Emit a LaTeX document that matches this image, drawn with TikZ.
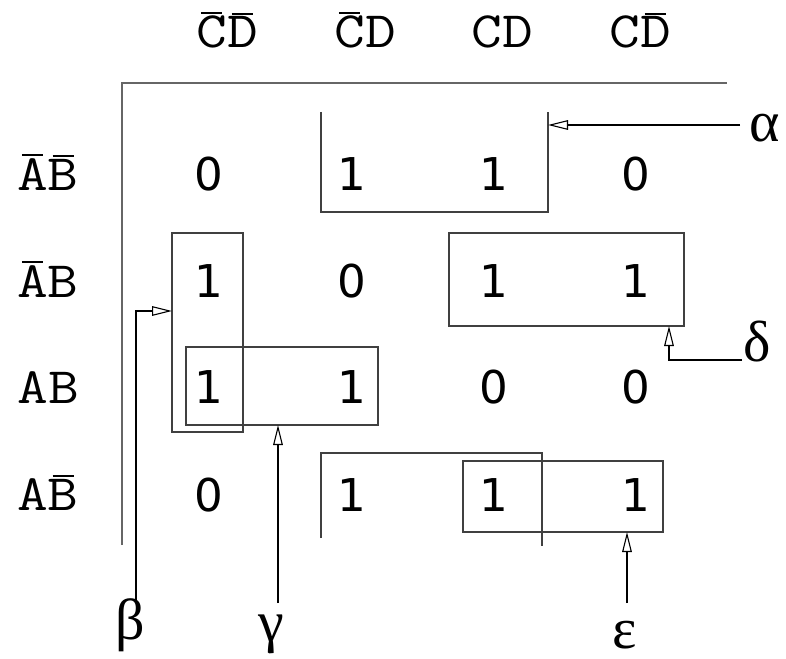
\documentclass[tikz,border=0pt]{standalone}
\usepackage{fontspec}
\usepackage{tikz}
\usetikzlibrary{arrows.meta}

\newfontfamily\digitfont{DejaVu Sans}
\newfontfamily\greekfont{Liberation Serif}

% letter with a bar over it
\newsavebox\ntbox
\newcommand{\nt}[1]{\sbox\ntbox{#1}\rlap{\hbox to \wd\ntbox{\hss\raisebox{\dimexpr\ht\ntbox+1pt\relax}{\rule{0.7\wd\ntbox}{1pt}}\hss}}\usebox\ntbox}
\newcommand{\wide}[1]{\scalebox{1.17}[1]{#1}}

\tikzset{
  head/.style={anchor=base,inner sep=0pt,font=\fontsize{25.5}{30}\ttfamily},
  bit/.style={anchor=base,inner sep=0pt,font=\fontsize{22.6}{26}\digitfont},
  greek/.style={inner sep=0pt,font=\fontsize{29}{32}\greekfont},
  axis/.style={black!60,line width=1pt},
  grp/.style={black!75,line width=0.6pt},
  pointer/.style={black,line width=0.55pt,-{Triangle[open,length=10pt,width=4.8pt]}}
}

\begin{document}
\begin{tikzpicture}  [x=0.5pt,y=-0.5pt]
\useasboundingbox (0,0) rectangle (786,658);

\coordinate (O) at (122,83);
\coordinate (X) at (727,83);
\coordinate (Y) at (122,545);

\draw[axis] (Y) -- (O) -- (X);

% column heads
\node[head] (h1) at (227,48) {\wide{\nt{C}\nt{D}}};
\node[head] (h2) at (365,48) {\wide{\nt{C}D}};
\node[head] (h3) at (502,48) {\wide{CD}};
\node[head] (h4) at (640,48) {\wide{C\nt{D}}};

% row heads
\node[head] (r1) at (48,190) {\wide{\nt{A}\nt{B}}};
\node[head] (r2) at (48,297) {\wide{\nt{A}B}};
\node[head] (r3) at (48,403) {\wide{AB}};
\node[head] (r4) at (48,510) {\wide{A\nt{B}}};

% cells
\node[bit] (c11) at (209,190) {0};
\node[bit] (c12) at (352,190) {1};
\node[bit] (c13) at (494,190) {1};
\node[bit] (c14) at (636,190) {0};

\node[bit] (c21) at (209,297) {1};
\node[bit] (c22) at (352,297) {0};
\node[bit] (c23) at (494,297) {1};
\node[bit] (c24) at (636,297) {1};

\node[bit] (c31) at (209,403) {1};
\node[bit] (c32) at (352,403) {1};
\node[bit] (c33) at (494,403) {0};
\node[bit] (c34) at (636,403) {0};

\node[bit] (c41) at (209,511) {0};
\node[bit] (c42) at (352,511) {1};
\node[bit] (c43) at (494,511) {1};
\node[bit] (c44) at (636,511) {1};

% groups
\draw[grp] (321,112) -- (321,212) -- (548,212) -- (548,112);
\draw[grp] (449,233) rectangle (684,326);
\draw[grp] (172,233) rectangle (243,432);
\draw[grp] (186,347) rectangle (378,425);
\draw[grp] (321,538) -- (321,453) -- (542,453) -- (542,546);
\draw[grp] (463,461) rectangle (663,532);

% pointers
\coordinate (A1) at (740,125);
\coordinate (A2) at (548,125);
\coordinate (B1) at (136,600);
\coordinate (B2) at (172,311);
\coordinate (G1) at (278,603);
\coordinate (G2) at (278,425);
\coordinate (D1) at (742,360);
\coordinate (D2) at (669,326);
\coordinate (E1) at (627,603);
\coordinate (E2) at (627,532);

\draw[pointer] (A1) -- (A2);
\draw[pointer] (B1) |- (B2);
\draw[pointer] (G1) -- (G2);
\draw[pointer] (D1) -| (D2);
\draw[pointer] (E1) -- (E2);

\node[greek] (alpha) at (765,128) {α};
\node[greek] (beta) at (130,625) {β};
\node[greek] (gamma) at (271,634) {γ};
\node[greek] (delta) at (757,342) {δ};
\node[greek] (eps) at (625,635) {ε};

\end{tikzpicture}
\end{document}
